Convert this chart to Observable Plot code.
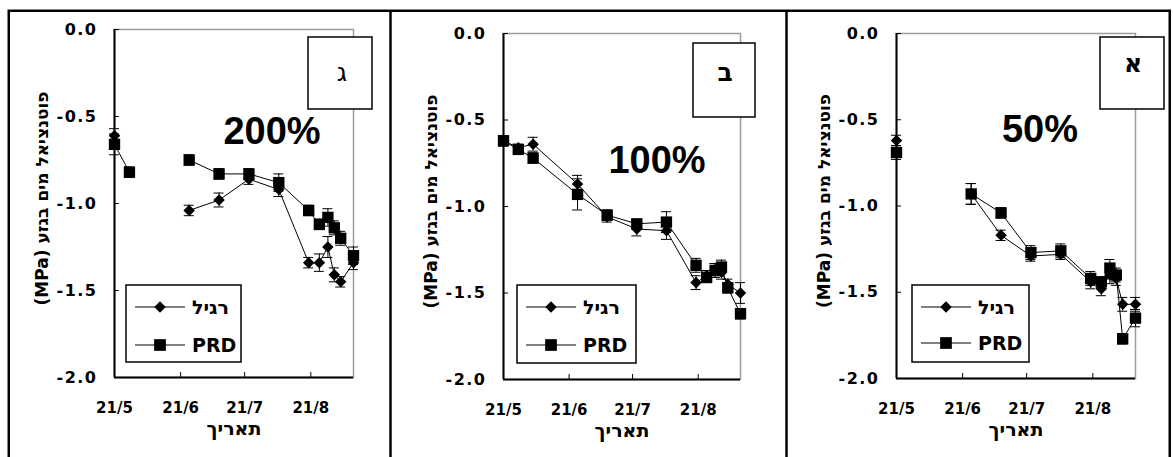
<!DOCTYPE html>
<html>
<head>
<meta charset="utf-8">
<script src="https://cdn.jsdelivr.net/npm/d3@7"></script>
<script src="https://cdn.jsdelivr.net/npm/@observablehq/plot@0.6"></script>
<style>
html,body{margin:0;padding:0;background:#fff;}
#page{position:relative;width:1173px;height:457px;overflow:hidden;background:#fff;font-family:"DejaVu Sans",sans-serif;}
.pane{position:absolute;top:12px;}
#overlay{position:absolute;left:0;top:0;}
.pane g[aria-label="y-axis tick label"] text{letter-spacing:1.5px;}
.pane g[aria-label="xlabel"] text{letter-spacing:1px;}
</style>
</head>
<body>
<div id="page"></div>
<script>
// ---------- data ----------
const dates = ["2006-05-21","2006-05-28","2006-06-04","2006-06-25","2006-07-09","2006-07-23","2006-08-06","2006-08-20","2006-08-25","2006-08-29","2006-09-01","2006-09-04","2006-09-10"];
const xDomain = ["2006-05-21","2006-09-10"];
const xTickDates = ["2006-05-21","2006-06-21","2006-07-21","2006-08-21"];
const xTickLabels = ["21/5","21/6","21/7","21/8"];
const yTicks = [0,-0.5,-1,-1.5,-2];
const seriesNames = ["רגיל","PRD"];
const panelLabels = ["ג","ב","א"];
const panelPercents = ["200%","100%","50%"];
const yLabel = "פוטנציאל מים בגזע (MPa)";
const xLabel = "תאריך";

// 200% (ג)
const reg200    = [-0.61, null, null, -1.04, -0.98, -0.86, -0.92, -1.34, -1.34, -1.25, -1.41, -1.45, -1.34];
const reg200Err = [0.04, null, null, 0.03, 0.04, 0.03, 0.04, 0.03, 0.05, 0.06, 0.04, 0.03, 0.04];
const prd200    = [-0.66, -0.82, null, -0.75, -0.83, -0.83, -0.88, -1.04, -1.12, -1.08, -1.14, -1.20, -1.30];
const prd200Err = [0.06, 0.03, null, 0.03, 0.03, 0.03, 0.05, 0.03, 0.03, 0.05, 0.04, 0.04, 0.05];
// 100% (ב)
const reg100    = [-0.62, -0.66, -0.64, -0.87, -1.06, -1.13, -1.14, -1.44, -1.40, -1.37, -1.38, -1.45, -1.50];
const reg100Err = [0.03, 0.02, 0.04, 0.05, 0.03, 0.04, 0.05, 0.04, 0.03, 0.04, 0.04, 0.03, 0.06];
const prd100    = [-0.62, -0.67, -0.72, -0.93, -1.05, -1.10, -1.09, -1.34, -1.41, -1.37, -1.35, -1.47, -1.62];
const prd100Err = [0.03, 0.02, 0.03, 0.09, 0.03, 0.02, 0.06, 0.04, 0.03, 0.04, 0.04, 0.03, 0.03];
// 50% (א)
const reg50     = [-0.62, null, null, -0.93, -1.17, -1.29, -1.28, -1.44, -1.48, -1.40, -1.42, -1.57, -1.57];
const reg50Err  = [0.03, null, null, 0.06, 0.03, 0.03, 0.03, 0.04, 0.04, 0.05, 0.04, 0.04, 0.04];
const prd50     = [-0.69, null, null, -0.93, -1.04, -1.27, -1.26, -1.42, -1.44, -1.36, -1.40, -1.77, -1.65];
const prd50Err  = [0.04, null, null, 0.06, 0.03, 0.04, 0.04, 0.04, 0.03, 0.05, 0.04, 0.03, 0.05];

// ---------- layout (page pixels) ----------
const layouts = [
  {svgL: 10,  w: 380, plotL: 114, plotR: 353,  top: 29, bottom: 377, box: [308, 37, 64, 72],  letter: [342, 81, "normal"], pct: [272, 144], legend: [126, 285, 115, 77], rows: [307, 345]},
  {svgL: 392, w: 393, plotL: 503, plotR: 740,  top: 33, bottom: 379, box: [693, 43, 62, 74],  letter: [725, 81, "bold"],   pct: [657, 173], legend: [517, 285, 119, 78], rows: [307, 345]},
  {svgL: 787, w: 381, plotL: 896, plotR: 1135, top: 33, bottom: 378, box: [1100, 37, 64, 72], letter: [1133, 72, "bold"],  pct: [1040, 142], legend: [912, 285, 117, 77], rows: [307, 343]}
];
const series = [
  [reg200, reg200Err, prd200, prd200Err],
  [reg100, reg100Err, prd100, prd100Err],
  [reg50, reg50Err, prd50, prd50Err]
];

const parse = d3.utcParse("%Y-%m-%d");
const xTicks = xTickDates.map(parse);
const page = document.getElementById("page");
const SVG_TOP = 12, SVG_H = 445;
const RLE = "\u202B", PDF = "\u202C";

function rowsFor(reg, regErr, prd, prdErr) {
  const out = [];
  dates.forEach((s, i) => {
    const date = parse(s);
    out.push({date, series: seriesNames[0], v: reg[i] ?? NaN, e: regErr[i] ?? NaN});
    out.push({date, series: seriesNames[1], v: prd[i] ?? NaN, e: prdErr[i] ?? NaN});
  });
  return out;
}

layouts.forEach((L, p) => {
  const rows = rowsFor(...series[p]);
  const lo = d => d.v - d.e, hi = d => d.v + d.e;
  const svg = Plot.plot({
    width: L.w, height: SVG_H,
    marginLeft: L.plotL - L.svgL,
    marginRight: L.svgL + L.w - L.plotR,
    marginTop: L.top - SVG_TOP,
    marginBottom: SVG_TOP + SVG_H - L.bottom,
    x: {type: "utc", domain: xDomain.map(parse), axis: null, label: null},
    y: {domain: [-2, 0], axis: null, label: null},
    style: {background: "transparent", overflow: "visible", fontFamily: "'DejaVu Sans', sans-serif", fontWeight: "bold", color: "black"},
    marks: [
      Plot.frame({stroke: "#9d9d9d", strokeWidth: 1.5}),
      Plot.ruleX([parse(xDomain[0])], {stroke: "black", strokeWidth: 2}),
      Plot.ruleY([-2], {stroke: "black", strokeWidth: 2}),
      Plot.axisY(yTicks, {tickSize: 5, dx: 5, fill: "none", stroke: "black", label: null}),
      Plot.axisY(yTicks, {tickSize: 0, tickPadding: 17, tickFormat: d => d.toFixed(1), fontSize: 16, fill: "black", label: null}),
      Plot.axisX(xTicks, {tickSize: 5, dy: -5, fill: "none", stroke: "black", label: null}),
      Plot.axisX(xTicks, {tickSize: 0, tickPadding: 25, tickFormat: d => xTickLabels[xTicks.findIndex(t => +t === +d)], fontSize: 15, fill: "black", label: null}),
      Plot.text([xLabel], {text: d => d, frameAnchor: "bottom", dy: 57, fontSize: 19, fontWeight: "bold", fill: "black", ariaLabel: "xlabel"}),
      Plot.text([yLabel], {text: d => RLE + d + PDF, frameAnchor: "left", dx: -72, dy: -5, rotate: -90, textAnchor: "middle", fontSize: 17, fontWeight: "bold", fill: "black"}),
      Plot.line(rows, {x: "date", y: "v", z: "series", stroke: "black", strokeWidth: 1}),
      Plot.ruleX(rows, {x: "date", y1: lo, y2: hi, stroke: "black", strokeWidth: 1}),
      Plot.ruleY(rows, {x1: "date", x2: "date", y: lo, insetLeft: -5, insetRight: -5, stroke: "black", strokeWidth: 1}),
      Plot.ruleY(rows, {x1: "date", x2: "date", y: hi, insetLeft: -5, insetRight: -5, stroke: "black", strokeWidth: 1}),
      Plot.dot(rows.filter(d => d.series === seriesNames[1]), {x: "date", y: "v", symbol: "square", r: 6.4, fill: "black", stroke: "none"}),
      Plot.dot(rows.filter(d => d.series === seriesNames[0]), {x: "date", y: "v", symbol: "diamond2", r: 5.2, fill: "black", stroke: "none"})
    ]
  });
  const div = document.createElement("div");
  div.className = "pane";
  div.style.left = L.svgL + "px";
  div.style.width = L.w + "px";
  div.appendChild(svg);
  page.appendChild(div);
});

// ---------- overlay: frames, label boxes, percentages, legends ----------
const ov = d3.select(page).append("svg").attr("id", "overlay").attr("width", 1173).attr("height", 457)
  .style("font-family", "'DejaVu Sans', sans-serif");
ov.append("rect").attr("x", 8.75).attr("y", 10.75).attr("width", 1161).attr("height", 480)
  .attr("fill", "none").attr("stroke", "#000").attr("stroke-width", 2.5);
[390.5, 786.5].forEach(x => ov.append("line").attr("x1", x).attr("x2", x).attr("y1", 10).attr("y2", 457)
  .attr("stroke", "#000").attr("stroke-width", 2.5));

const diamondPath = d3.symbol().type(d3.symbolDiamond2).size(Math.PI * 5.2 * 5.2)();
const squarePath = d3.symbol().type(d3.symbolSquare).size(Math.PI * 6.6 * 6.6)();

layouts.forEach((L, p) => {
  const g = ov.append("g");
  const [bx, by, bw, bh] = L.box;
  g.append("rect").attr("x", bx).attr("y", by).attr("width", bw).attr("height", bh)
    .attr("fill", "#fff").attr("stroke", "#000").attr("stroke-width", 1.5);
  g.append("text").attr("x", L.letter[0]).attr("y", L.letter[1]).attr("text-anchor", "middle")
    .attr("font-size", 25).attr("font-weight", L.letter[2]).text(panelLabels[p]);
  g.append("text").attr("x", L.pct[0]).attr("y", L.pct[1]).attr("text-anchor", "middle")
    .attr("font-family", "'Liberation Sans', Arial, sans-serif").attr("font-size", 38).attr("font-weight", "bold")
    .text(panelPercents[p]);
  const [lx, ly, lw, lh] = L.legend;
  g.append("rect").attr("x", lx).attr("y", ly).attr("width", lw).attr("height", lh)
    .attr("fill", "#fff").attr("stroke", "#000").attr("stroke-width", 1.5);
  seriesNames.forEach((name, k) => {
    const yy = L.rows[k];
    g.append("line").attr("x1", lx + 9).attr("x2", lx + 59).attr("y1", yy).attr("y2", yy)
      .attr("stroke", "#000").attr("stroke-width", 1);
    g.append("path").attr("d", k === 0 ? diamondPath : squarePath)
      .attr("transform", `translate(${lx + 34},${yy})`).attr("fill", "#000");
    g.append("text").attr("x", lx + 66).attr("y", yy).attr("dy", "0.36em")
      .attr("font-size", 19).attr("font-weight", "bold").text(name);
  });
});
</script>
</body>
</html>
